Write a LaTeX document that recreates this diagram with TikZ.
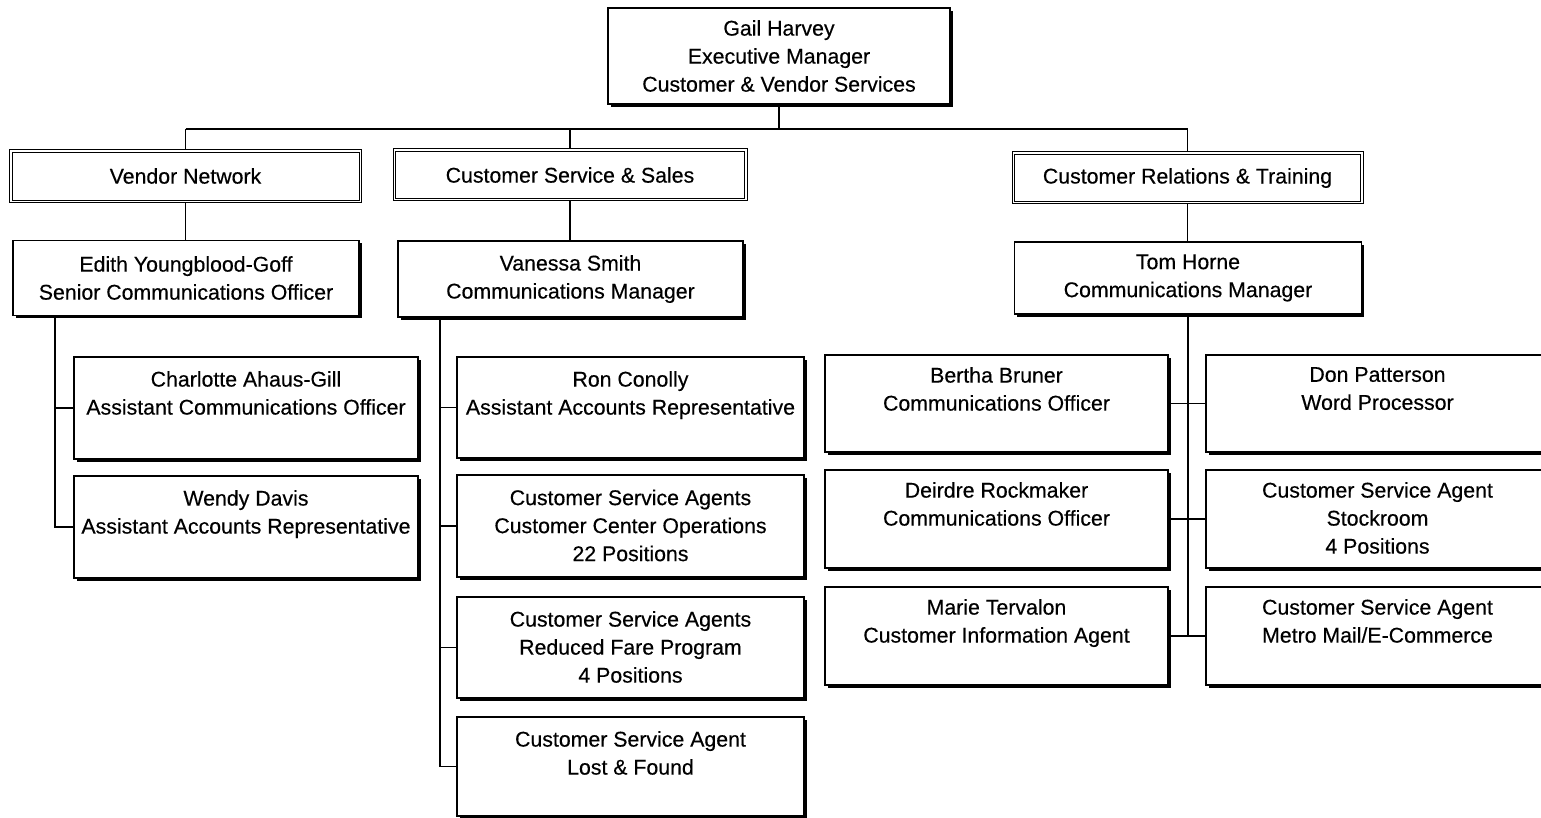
\documentclass[tikz,border=0pt]{standalone}
\usepackage{fontspec}
\setmainfont{Liberation Sans}[FakeBold=0.35]
\usetikzlibrary{shadows}
\begin{document}
\begin{tikzpicture}[x=1pt,y=-1pt,
  txtfont/.style={font=\fontsize{21.3}{28}\selectfont\addfontfeature{FakeBold=0.35}},
  shbox/.style={draw=black, line width=1.1pt, fill=white, inner sep=0pt,
    drop shadow={shadow xshift=2.8pt, shadow yshift=-2.8pt, fill=black, opacity=1}},
  topbox/.style={shbox, txtfont, align=center, minimum width=342pt, minimum height=96pt},
  mgrbox/.style={shbox, txtfont, align=center, minimum width=346pt, minimum height=75pt},
  deptbox/.style={draw=black, line width=1pt, fill=white,
    txtfont, align=center, inner sep=0pt, minimum width=352pt, minimum height=53pt},
  inner/.style={draw=black, line width=0.7pt},
  staffbox/.style={shbox, minimum width=345pt, minimum height=101pt},
  stafftxt/.style={txtfont, align=center, inner sep=0pt, anchor=north},
  link/.style={draw=black, line width=1.8pt}
]
\useasboundingbox (0,0) rectangle (1541,818);
\clip (0,0) rectangle (1541,818);

% top
\node[topbox] (top) at (779,56) {Gail Harvey\\Executive Manager\\Customer \& Vendor Services};

% departments
\node[deptbox] (vendor) at (185.5,176) {Vendor Network};
\node[deptbox, minimum width=354pt, minimum height=52pt] (css) at (570,175) {Customer Service \& Sales};
\node[deptbox, minimum width=351pt, minimum height=52pt] (crt) at (1187.5,178) {Customer Relations \& Training};
\foreach \d in {vendor,css,crt}{
  \draw[inner] ([shift={(3pt,-3pt)}]\d.north west) rectangle ([shift={(-3pt,3pt)}]\d.south east);
}

% managers
\node[mgrbox] (edith) at (186,278) {Edith Youngblood-Goff\\Senior Communications Officer};
\node[mgrbox, minimum width=345pt, minimum height=76pt] (vanessa) at (570.5,279) {Vanessa Smith\\Communications Manager};
\node[mgrbox, minimum width=347pt, minimum height=72pt] (tom) at (1188,278) {Tom Horne\\Communications Manager};

% Edith's staff
\node[staffbox, minimum width=344pt, minimum height=102pt] (charlotte) at (246,408) {};
\node[stafftxt] (charlottet) at ([yshift=-14.5pt]charlotte.north) {Charlotte Ahaus-Gill\\Assistant Communications Officer};
\node[staffbox, minimum width=344pt, minimum height=102pt] (wendy) at (246,527) {};
\node[stafftxt] (wendyt) at ([yshift=-14.5pt]wendy.north) {Wendy Davis\\Assistant Accounts Representative};

% Vanessa's staff
\node[staffbox, minimum width=347pt] (ron) at (630.5,407.5) {};
\node[stafftxt] (ront) at ([yshift=-14.5pt]ron.north) {Ron Conolly\\Assistant Accounts Representative};
\node[staffbox, minimum width=347pt, minimum height=102pt] (cco) at (630.5,526) {};
\node[stafftxt] (ccot) at ([yshift=-15pt]cco.north) {Customer Service Agents\\Customer Center Operations\\22 Positions};
\node[staffbox, minimum width=347pt] (rfp) at (630.5,647.5) {};
\node[stafftxt] (rfpt) at ([yshift=-14.5pt]rfp.north) {Customer Service Agents\\Reduced Fare Program\\4 Positions};
\node[staffbox, minimum width=347pt, minimum height=99pt] (lf) at (630.5,766.5) {};
\node[stafftxt] (lft) at ([yshift=-14.5pt]lf.north) {Customer Service Agent\\Lost \& Found};

% Tom's staff
\node[staffbox, minimum width=343pt, minimum height=97pt] (bertha) at (996.5,403.5) {};
\node[stafftxt] (berthat) at ([yshift=-12.5pt]bertha.north) {Bertha Bruner\\Communications Officer};
\node[staffbox, minimum width=343pt, minimum height=98pt] (deirdre) at (996.5,519) {};
\node[stafftxt] (deirdret) at ([yshift=-12.5pt]deirdre.north) {Deirdre Rockmaker\\Communications Officer};
\node[staffbox, minimum width=343pt, minimum height=98pt] (marie) at (996.5,636) {};
\node[stafftxt] (mariet) at ([yshift=-12.5pt]marie.north) {Marie Tervalon\\Customer Information Agent};
\node[staffbox, minimum width=343pt, minimum height=97pt] (don) at (1377.5,403.5) {};
\node[stafftxt] (dont) at ([yshift=-12.5pt]don.north) {Don Patterson\\Word Processor};
\node[staffbox, minimum width=343pt, minimum height=98pt] (stock) at (1377.5,519) {};
\node[stafftxt] (stockt) at ([yshift=-12.5pt]stock.north) {Customer Service Agent\\Stockroom\\4 Positions};
\node[staffbox, minimum width=343pt, minimum height=98pt] (metro) at (1377.5,636) {};
\node[stafftxt] (metrot) at ([yshift=-12.5pt]metro.north) {Customer Service Agent\\Metro Mail/E-Commerce};

% connectors
\coordinate (hl) at (185.5,129);
\coordinate (hr) at (1187.5,129);
\draw[link] (hl) -- (hr);
\draw[link] (top.south) -- (top.south |- hl);
\draw[link] (vendor.north) -- (vendor.north |- hl);
\draw[link] (css.north) -- (css.north |- hl);
\draw[link] (crt.north) -- (crt.north |- hl);
\draw[link] (vendor.south) -- (vendor.south |- edith.north);
\draw[link] (css.south) -- (css.south |- vanessa.north);
\draw[link] (crt.south) -- (crt.south |- tom.north);

\coordinate (ev) at (55,0);
\draw[link] (ev |- edith.south) -- (ev |- wendy.west) -- (wendy.west);
\draw[link] (ev |- charlotte.west) -- (charlotte.west);

\coordinate (vv) at (440,0);
\draw[link] (vv |- vanessa.south) -- (vv |- lf.west) -- (lf.west);
\draw[link] (vv |- ron.west) -- (ron.west);
\draw[link] (vv |- cco.west) -- (cco.west);
\draw[link] (vv |- rfp.west) -- (rfp.west);

\draw[link] (tom.south) -- (tom.south |- marie.east);
\draw[link] (bertha.east) -- (don.west);
\draw[link] (deirdre.east) -- (stock.west);
\draw[link] (marie.east) -- (metro.west);
\end{tikzpicture}
\end{document}
